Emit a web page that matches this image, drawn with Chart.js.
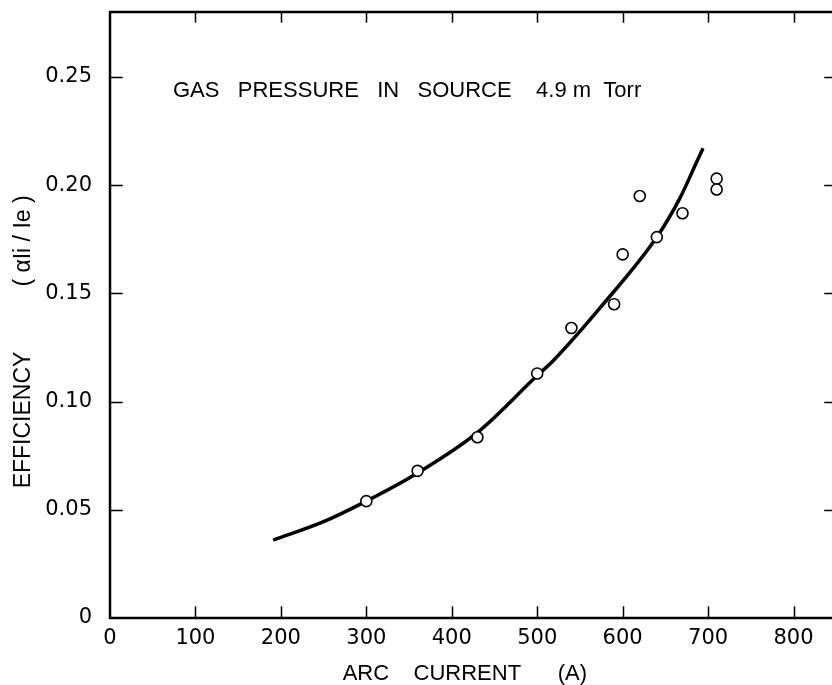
<!DOCTYPE html>
<html>
<head>
<meta charset="utf-8">
<script src="https://cdn.jsdelivr.net/npm/chart.js@4/dist/chart.umd.min.js"></script>
<style>
  html, body { margin: 0; padding: 0; background: #fff; }
  canvas { display: block; }
</style>
</head>
<body>
<canvas id="chart" width="832" height="685"></canvas>
<script>
// Measured efficiency points (open circles)
const measuredCurrent    = [300, 360, 430, 500, 540, 590, 600, 620, 640, 670, 710, 710];
const measuredEfficiency = [0.054, 0.068, 0.0835, 0.113, 0.134, 0.145, 0.168, 0.195, 0.176, 0.187, 0.203, 0.198];

// Hand-drawn trend curve through the data
const curveCurrent    = [191, 250, 300, 360, 431, 500, 519, 574, 640, 667, 687, 694];
const curveEfficiency = [0.036, 0.0445, 0.054, 0.067, 0.086, 0.112, 0.119, 0.1435, 0.176, 0.194, 0.211, 0.217];

// Axis ticks
const currentTicks    = [0, 100, 200, 300, 400, 500, 600, 700, 800];
const efficiencyTicks = [0, 0.05, 0.10, 0.15, 0.20, 0.25];

const noteText = 'GAS   PRESSURE   IN   SOURCE    4.9 m  Torr';
const yTitleMain = 'EFFICIENCY';
const yTitleUnit = '( αIi / Ie )';
const xTitle = 'ARC    CURRENT      (A)  ';

const tickFont = { family: 'DejaVu Sans', size: 21 };

const toPoints = (xs, ys) => xs.map((x, i) => ({ x, y: ys[i] }));

// Frame, inward tick marks on all four sides, the y caption and the note
const framePlugin = {
  id: 'frame',
  afterDraw(chart) {
    const { ctx, chartArea: a, scales } = chart;
    const xs = scales.x, ys = scales.y;
    ctx.save();
    ctx.strokeStyle = '#000';
    ctx.lineCap = 'square';

    ctx.lineWidth = 2.5;
    ctx.beginPath();
    ctx.moveTo(a.left, a.top);
    ctx.lineTo(a.right, a.top);
    ctx.moveTo(a.left, a.top);
    ctx.lineTo(a.left, a.bottom);
    ctx.lineTo(a.right, a.bottom);
    ctx.stroke();

    ctx.lineWidth = 1.5;
    ctx.beginPath();
    currentTicks.forEach(v => {
      if (v === 0) return;
      const px = Math.round(xs.getPixelForValue(v)) + 0.5;
      ctx.moveTo(px, a.bottom);
      ctx.lineTo(px, a.bottom - 11);
      ctx.moveTo(px, a.top);
      ctx.lineTo(px, a.top + 10);
    });
    efficiencyTicks.forEach(v => {
      if (v === 0) return;
      const py = Math.round(ys.getPixelForValue(v)) + 0.5;
      ctx.moveTo(a.left, py);
      ctx.lineTo(a.left + 12, py);
      ctx.moveTo(a.right, py);
      ctx.lineTo(a.right - 7, py);
    });
    ctx.stroke();

    ctx.fillStyle = '#000';
    ctx.textAlign = 'center';
    ctx.textBaseline = 'middle';

    // rotated y caption
    ctx.save();
    ctx.translate(24, 0);
    ctx.rotate(-Math.PI / 2);
    ctx.font = '23px "Liberation Sans"';
    ctx.fillText(yTitleMain, -420, 0);
    ctx.fillText(yTitleUnit, -241, 0);
    ctx.restore();

    // operating-condition note
    ctx.font = '22px "Liberation Sans"';
    ctx.textAlign = 'left';
    ctx.fillText(noteText, 173, 91);
    ctx.restore();
  }
};

new Chart(document.getElementById('chart'), {
  type: 'scatter',
  data: {
    datasets: [
      {
        label: 'measured',
        data: toPoints(measuredCurrent, measuredEfficiency),
        showLine: false,
        pointRadius: 5.5,
        pointBorderWidth: 1.6,
        pointBackgroundColor: '#fff',
        pointBorderColor: '#000'
      },
      {
        label: 'trend',
        data: toPoints(curveCurrent, curveEfficiency),
        showLine: true,
        borderColor: '#000',
        borderWidth: 3.5,
        pointRadius: 0,
        cubicInterpolationMode: 'monotone',
        fill: false
      }
    ]
  },
  options: {
    responsive: false,
    animation: false,
    devicePixelRatio: 1,
    layout: { autoPadding: false, padding: { top: 12, right: 0, bottom: 0, left: 0 } },
    plugins: { legend: { display: false }, tooltip: { enabled: false } },
    scales: {
      x: {
        type: 'linear',
        min: 0,
        max: 845,
        afterBuildTicks: s => { s.ticks = currentTicks.map(v => ({ value: v })); },
        afterFit: s => { s.height = 67; s.paddingLeft = 0; s.paddingRight = 0; },
        grid: { display: false },
        border: { display: false },
        ticks: { font: tickFont, color: '#000', padding: 0, maxRotation: 0, autoSkip: false },
        title: {
          display: true,
          text: xTitle,
          color: '#000',
          font: { family: 'Liberation Sans', size: 22, lineHeight: 1 },
          padding: { top: 0, bottom: 0 }
        }
      },
      y: {
        type: 'linear',
        min: 0,
        max: 0.28,
        afterBuildTicks: s => { s.ticks = efficiencyTicks.map(v => ({ value: v })); },
        afterFit: s => { s.width = 110; s.paddingTop = 0; s.paddingBottom = 0; },
        grid: { display: false },
        border: { display: false },
        ticks: {
          font: tickFont,
          color: '#000',
          padding: 10,
          autoSkip: false,
          callback: v => (v === 0 ? '0' : v.toFixed(2))
        }
      }
    }
  },
  plugins: [framePlugin]
});
</script>
</body>
</html>
